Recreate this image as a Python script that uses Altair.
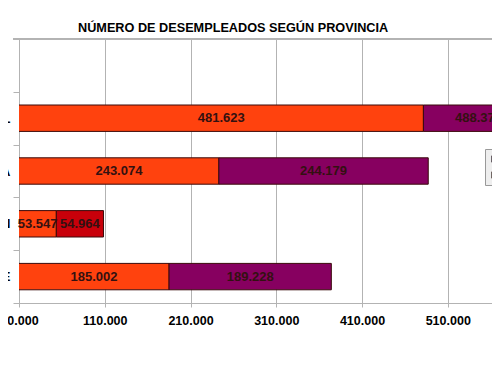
import altair as alt
import pandas as pd

# ---- data ----
provincias = ["TOTAL", "VALENCIA", "CASTELLÓN", "ALICANTE"]
serie_1 = [481623, 243074, 53547, 185002]   # orange segment
serie_2 = [488371, 244179, 54964, 189228]   # purple segment
series = ["Serie 2", "Serie 1"]             # legend order (top: purple)
x_ticks = [10000, 110000, 210000, 310000, 410000, 510000]
x_min = 10000
x_max_original = 610000   # axis end of the (cropped) original chart
titulo = "NÚMERO DE DESEMPLEADOS SEGÚN PROVINCIA"

def fmt(v):
    return f"{v:,}".replace(",", ".")

rows = []
for p, a, b in zip(provincias, serie_1, serie_2):
    for serie, s, e, v in (("Serie 1", 0, a, a), ("Serie 2", a, a + b, b)):
        lo = max(s, x_min)
        hi = min(e, x_max_original)
        rows.append({"prov": p, "serie": serie, "start": s, "end": e,
                     "mid": (lo + hi) / 2, "label": fmt(v)})
df = pd.DataFrame(rows)

FONT = "Liberation Sans"
GRAY = "#b3b3b3"
ORANGE = "#ff420e"
PURPLE = "#870060"
RED = "#c8000a"

ydom = [" "] + provincias
yscale = alt.Scale(domain=ydom, paddingInner=0, paddingOuter=0)
xscale = alt.Scale(domain=[x_min, 561600], nice=False, zero=False)

base = alt.Chart(df)

bars = base.mark_bar(clip=True, stroke="#3a0a0a", strokeWidth=1,
                     height={"band": 0.5}).encode(
    y=alt.Y("prov:N", scale=yscale, sort=ydom,
            axis=alt.Axis(title=None, tickBand="extent", tickSize=6,
                          labelPadding=3, labelFontSize=13, labelFont=FONT,
                          labelFontWeight="bold", labelColor="black",
                          domainColor=GRAY, tickColor=GRAY, grid=False)),
    x=alt.X("start:Q", scale=xscale,
            axis=alt.Axis(title=None, values=x_ticks, tickSize=4,
                          labelPadding=7, labelFontSize=12.5, labelFont=FONT,
                          labelFontWeight="bold", labelColor="black",
                          labelExpr="replace(format(datum.value, ',d'), ',', '.')",
                          domainColor=GRAY, tickColor=GRAY, grid=True,
                          gridColor=GRAY, labelFlush=False)),
    x2="end:Q",
    color=alt.condition(
        (alt.datum.prov == "CASTELLÓN") & (alt.datum.serie == "Serie 2"),
        alt.value(RED),
        alt.Color("serie:N", scale=alt.Scale(domain=series, range=[PURPLE, ORANGE]),
                  legend=alt.Legend(title=None, orient="none", legendX=466, legendY=110,
                                    fillColor="#eeeeee", strokeColor="#999999",
                                    padding=4, symbolType="square", symbolSize=40,
                                    symbolStrokeColor="#333333", symbolStrokeWidth=1,
                                    labelFontSize=12, labelFont=FONT, rowPadding=4)),
    ),
)

texts = base.mark_text(fontSize=13, font=FONT, fontWeight="bold",
                       color="#331111").encode(
    y=alt.Y("prov:N", scale=yscale, sort=ydom),
    x=alt.X("mid:Q", scale=xscale),
    text="label:N",
)

top_line = alt.Chart(df).mark_rule(color=GRAY, strokeWidth=1).encode(
    x=alt.value(-6), x2=alt.value(473), y=alt.value(0)
)

chart = alt.layer(bars, top_line, texts).properties(
    width=473, height=264,
    autosize=alt.AutoSizeParams(type="none"),
    padding={"left": 11, "top": 31, "right": 0, "bottom": 40},
    title=alt.TitleParams(titulo, anchor="start", frame="group", dx=59, offset=-2,
                          fontSize=12.7, font=FONT, fontWeight="bold",
                          color="black"),
).configure_view(stroke=None).configure(background="white")

chart.save("out.html", embed_options={"renderer": "svg", "actions": False})
